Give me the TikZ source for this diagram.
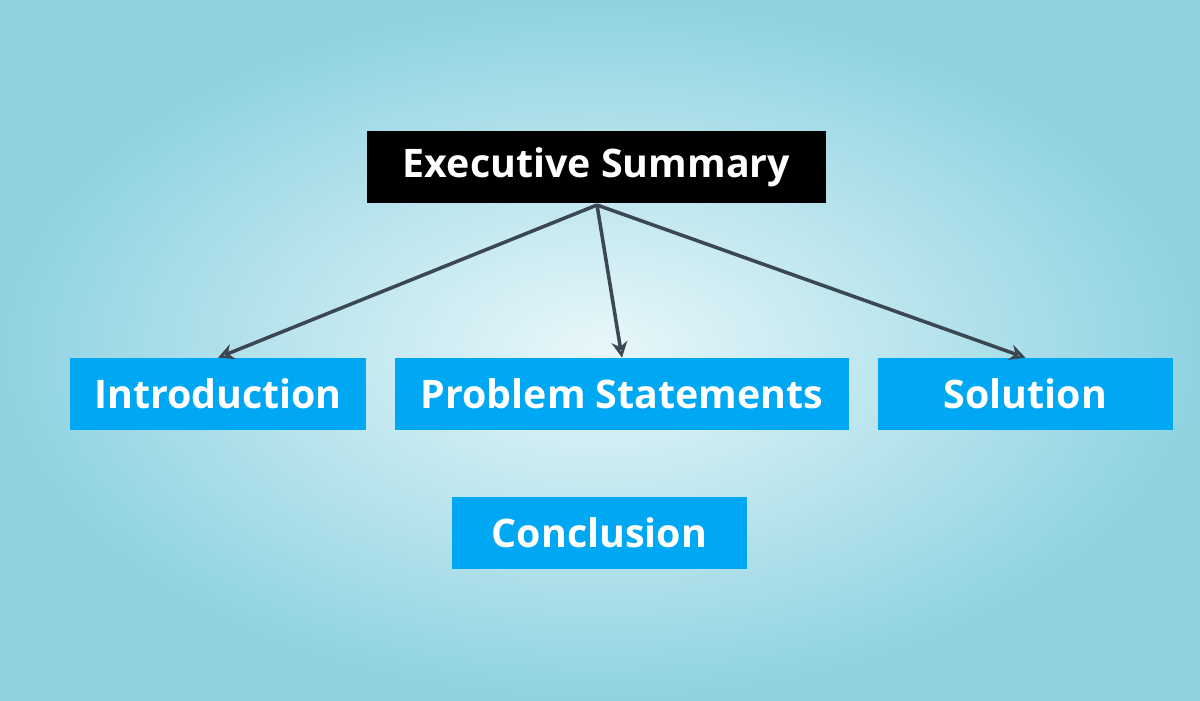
\documentclass[tikz,border=0pt]{standalone}
\usepackage{fontspec}
\setmainfont{Open Sans}
\definecolor{bgin}{HTML}{E8F7FA}
\definecolor{bgout}{HTML}{8FD3E1}
\definecolor{boxblue}{HTML}{00A8F3}
\definecolor{arr}{HTML}{3B4752}
\begin{document}
\begin{tikzpicture}[x=0.02cm,y=-0.02cm,
  box/.style={draw=none,minimum height=72*0.02cm,inner sep=0pt,font=\fontsize{22.4}{26}\selectfont\bfseries,text=white},
  link/.style={draw=arr,line width=2pt,-{Stealth[length=9pt,width=9pt,open]}}]
\usetikzlibrary{arrows.meta}
\shade[inner color=bgin,outer color=bgout] (0,0) rectangle (1200,700);
\useasboundingbox (0,0) rectangle (1200,700);
\node[box,fill=black,minimum width=459*0.02cm] (es) at (596.5,167) {Executive Summary};
\node[box,fill=boxblue,minimum width=296*0.02cm] (in) at (218,394) {Introduction};
\node[box,fill=boxblue,minimum width=454*0.02cm] (ps) at (622,394) {Problem Statements};
\node[box,fill=boxblue,minimum width=295*0.02cm] (so) at (1025.5,394) {Solution};
\node[box,fill=boxblue,minimum width=295*0.02cm] (co) at (599.5,533) {Conclusion};
\coordinate (src) at (597,205);
\draw[link] (src) -- (in.north);
\draw[link] (src) -- (ps.north);
\draw[link] (src) -- (so.north);
\end{tikzpicture}
\end{document}
